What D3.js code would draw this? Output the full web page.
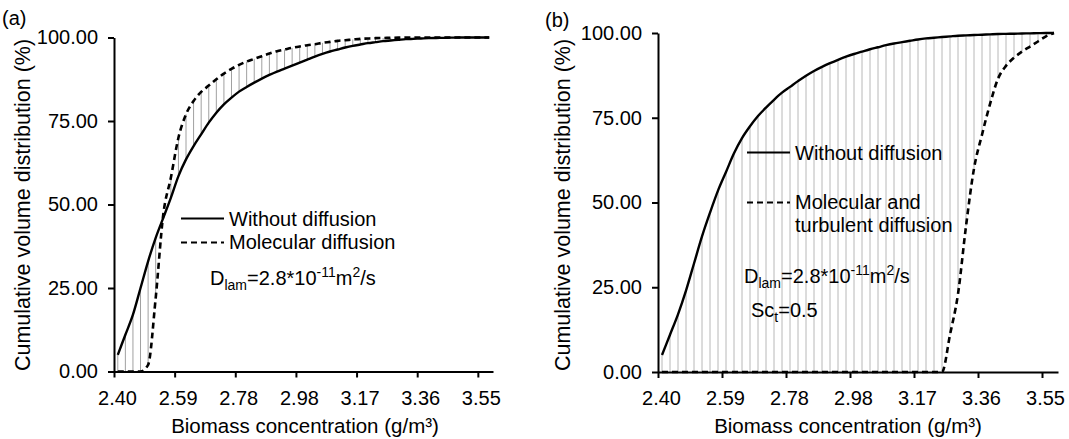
<!DOCTYPE html>
<html>
<head>
<meta charset="utf-8">
<script src="https://cdn.jsdelivr.net/npm/d3@7"></script>
<style>
  body { margin: 0; background: #fff; }
  svg { display: block; font-family: "Liberation Sans", Arial, sans-serif; }
  text { fill: #000; }
</style>
</head>
<body>
<script>
// bin centres (g/m3), bins of 0.024 starting at 2.40
const concentration = [
  2.412, 2.436, 2.460, 2.484, 2.508, 2.532, 2.556, 2.580, 2.604, 2.628,
  2.652, 2.676, 2.700, 2.724, 2.748, 2.772, 2.796, 2.820, 2.844, 2.868,
  2.892, 2.916, 2.940, 2.964, 2.988, 3.012, 3.036, 3.060, 3.084, 3.108,
  3.132, 3.156, 3.180, 3.204, 3.228, 3.252, 3.276, 3.300, 3.324, 3.348,
  3.372, 3.396, 3.420, 3.444, 3.468, 3.492, 3.516, 3.540, 3.564, 3.588
];
const xTickValues = [2.400, 2.592, 2.784, 2.976, 3.168, 3.360, 3.552];
const yTickValues = [0, 25, 50, 75, 100];

// (a) cumulative volume distribution (%)
const withoutDiffusionA = [
  5, 11, 17, 25, 33, 40, 46, 52, 58.5, 63.5,
  67.5, 71, 74.5, 77.5, 80, 82, 83.8, 85.2, 86.5, 87.7,
  88.8, 89.8, 90.7, 91.6, 92.5, 93.4, 94.3, 95.1, 95.8, 96.4,
  97, 97.5, 97.9, 98.3, 98.6, 98.9, 99.1, 99.3, 99.5, 99.6,
  99.7, 99.8, 99.85, 99.9, 99.95, 100, 100, 100, 100, 100
];
const molecularDiffusionA = [
  0, 0, 0, 0, 2, 22, 47, 58, 70, 77,
  81, 83.7, 85.6, 87.5, 89.2, 90.6, 91.8, 92.8, 93.6, 94.4,
  95.2, 95.9, 96.4, 96.9, 97.3, 97.7, 98, 98.4, 98.7, 99,
  99.2, 99.4, 99.6, 99.7, 99.8, 99.85, 99.9, 99.95, 100, 100,
  100, 100, 100, 100, 100, 100, 100, 100, 100, 100
];

// (b) cumulative volume distribution (%)
const withoutDiffusionB = [
  5, 11, 17, 24, 32, 40, 47, 53.5, 59, 64.5,
  69, 72.5, 75.5, 78, 80.3, 82.4, 84.1, 85.8, 87.4, 88.8,
  90, 91.1, 92.1, 93, 93.8, 94.5, 95.2, 95.8, 96.4, 96.9,
  97.3, 97.7, 98.1, 98.4, 98.6, 98.8, 99, 99.2, 99.3, 99.4,
  99.5, 99.6, 99.7, 99.75, 99.8, 99.85, 99.9, 99.95, 100, 100
];
const turbulentDiffusionB = [
  0, 0, 0, 0, 0, 0, 0, 0, 0, 0,
  0, 0, 0, 0, 0, 0, 0, 0, 0, 0,
  0, 0, 0, 0, 0, 0, 0, 0, 0, 0,
  0, 0, 0, 0, 0, 0, 11, 23, 43, 60,
  70, 79, 86.5, 90.3, 92.7, 94.5, 96, 97.5, 99, 100
];

window.addEventListener('load', function() {
  const svg = d3.select('body').append('svg')
        .attr('width', 1069)
        .attr('height', 439);

  // writes text made of pieces, some of them sub/superscripts
  function richText(parent, xPos, yPos, parts) {
    const text = parent.append('text')
          .attr('x', xPos)
          .attr('y', yPos)
          .attr('font-size', 20);
    let shift = 0;
    parts.forEach(function(p) {
      const target = p.sub ? 5 : (p.sup ? -8 : 0);
      text.append('tspan')
        .attr('dy', target - shift)
        .attr('font-size', p.sub || p.sup ? 14 : 20)
        .text(p.t);
      shift = target;
    });
    return text;
  }

  function drawPanel(settings) {
    const x = d3.scaleLinear().domain([2.40, 3.60]).range([settings.left, settings.right]),
          y = d3.scaleLinear().domain([0, 100]).range([settings.bottom, settings.top]);

    const rows = concentration.map(function(c, i) {
      return { c: c, solid: settings.solid[i], dashed: settings.dashed[i] };
    });

    const g = svg.append('g');

    // high-low lines between the two series
    g.append('g')
      .selectAll('line')
      .data(rows)
      .join('line')
      .attr('x1', d => x(d.c))
      .attr('x2', d => x(d.c))
      .attr('y1', d => y(Math.min(d.solid, d.dashed)))
      .attr('y2', d => y(Math.max(d.solid, d.dashed)))
      .attr('stroke', settings.hatch)
      .attr('stroke-width', 1);

    const xAxis = g.append('g')
          .attr('transform', 'translate(0,' + settings.bottom + ')')
          .call(d3.axisBottom(x)
                .tickValues(xTickValues)
                .tickFormat(d3.format('.2f'))
                .tickSize(6)
                .tickSizeOuter(0)
                .tickPadding(13));
    xAxis.selectAll('text').attr('dx', 3);

    const yAxis = g.append('g')
          .attr('transform', 'translate(' + settings.left + ',0)')
          .call(d3.axisLeft(y)
                .tickValues(yTickValues)
                .tickFormat(d3.format('.2f'))
                .tickSize(6)
                .tickSizeOuter(0)
                .tickPadding(10));

    [xAxis, yAxis].forEach(function(axis) {
      axis.attr('font-size', 20).attr('font-family', null);
      axis.select('.domain').attr('stroke-width', 2);
      axis.selectAll('.tick line').attr('stroke-width', 2);
      axis.selectAll('.tick text').attr('fill', '#000');
    });

    const line = d3.line()
          .curve(d3.curveMonotoneX)
          .x(d => x(d.c));

    g.append('path')
      .datum(rows)
      .attr('fill', 'none')
      .attr('stroke', '#000')
      .attr('stroke-width', 2.4)
      .attr('d', line.y(d => y(d.solid)));

    g.append('path')
      .datum(rows)
      .attr('fill', 'none')
      .attr('stroke', '#000')
      .attr('stroke-width', 2.6)
      .attr('stroke-dasharray', '6,4')
      .attr('d', line.y(d => y(d.dashed)));

    // legend
    const lg = settings.legend;
    g.append('line')
      .attr('x1', lg.x).attr('x2', lg.x + 43)
      .attr('y1', lg.y1).attr('y2', lg.y1)
      .attr('stroke', '#000').attr('stroke-width', 2);
    g.append('line')
      .attr('x1', lg.x).attr('x2', lg.x + 43)
      .attr('y1', lg.y2).attr('y2', lg.y2)
      .attr('stroke', '#000').attr('stroke-width', 2)
      .attr('stroke-dasharray', '6,4');
    g.append('text')
      .attr('x', lg.x + 48).attr('y', lg.y1 + 7)
      .attr('font-size', 20)
      .text(settings.names[0]);
    settings.names.slice(1).forEach(function(name, i) {
      g.append('text')
        .attr('x', lg.x + 48).attr('y', lg.y2 + 6 + i * 23.5)
        .attr('font-size', 20)
        .text(name);
    });

    richText(g, settings.note.x, settings.note.y, [
      { t: 'D' }, { t: 'lam', sub: true }, { t: '=2.8*10' },
      { t: '-11', sup: true }, { t: 'm' }, { t: '2', sup: true }, { t: '/s' }
    ]);
    if (settings.schmidt) {
      richText(g, settings.schmidt.x, settings.schmidt.y, [
        { t: 'Sc' }, { t: 't', sub: true }, { t: '=0.5' }
      ]);
    }

    // titles
    g.append('text')
      .attr('x', settings.xTitleX)
      .attr('y', 433)
      .attr('text-anchor', 'middle')
      .attr('font-size', 20.5)
      .text('Biomass concentration (g/m³)');
    g.append('text')
      .attr('transform', 'translate(' + settings.yTitleX + ',' + 205 + ') rotate(-90)')
      .attr('text-anchor', 'middle')
      .attr('font-size', 21.5)
      .text('Cumulative volume distribution (%)');
    g.append('text')
      .attr('x', settings.tag.x)
      .attr('y', settings.tag.y)
      .attr('font-size', 20)
      .text(settings.tag.t);
  }

  drawPanel({
    left: 114, right: 493, top: 37.5, bottom: 371.5,
    solid: withoutDiffusionA,
    dashed: molecularDiffusionA,
    hatch: '#a0a0a0',
    names: ['Without diffusion', 'Molecular diffusion'],
    legend: { x: 181, y1: 218.5, y2: 242.5 },
    note: { x: 210, y: 285 },
    xTitleX: 305,
    yTitleX: 30,
    tag: { x: 2, y: 25, t: '(a)' }
  });

  drawPanel({
    left: 658, right: 1058, top: 33, bottom: 372,
    solid: withoutDiffusionB,
    dashed: turbulentDiffusionB,
    hatch: '#b8b8b8',
    names: ['Without diffusion', 'Molecular and', 'turbulent diffusion'],
    legend: { x: 747, y1: 152.5, y2: 202.5 },
    note: { x: 744, y: 283 },
    schmidt: { x: 751, y: 317 },
    xTitleX: 848,
    yTitleX: 570,
    tag: { x: 545, y: 27, t: '(b)' }
  });
});
</script>
</body>
</html>
